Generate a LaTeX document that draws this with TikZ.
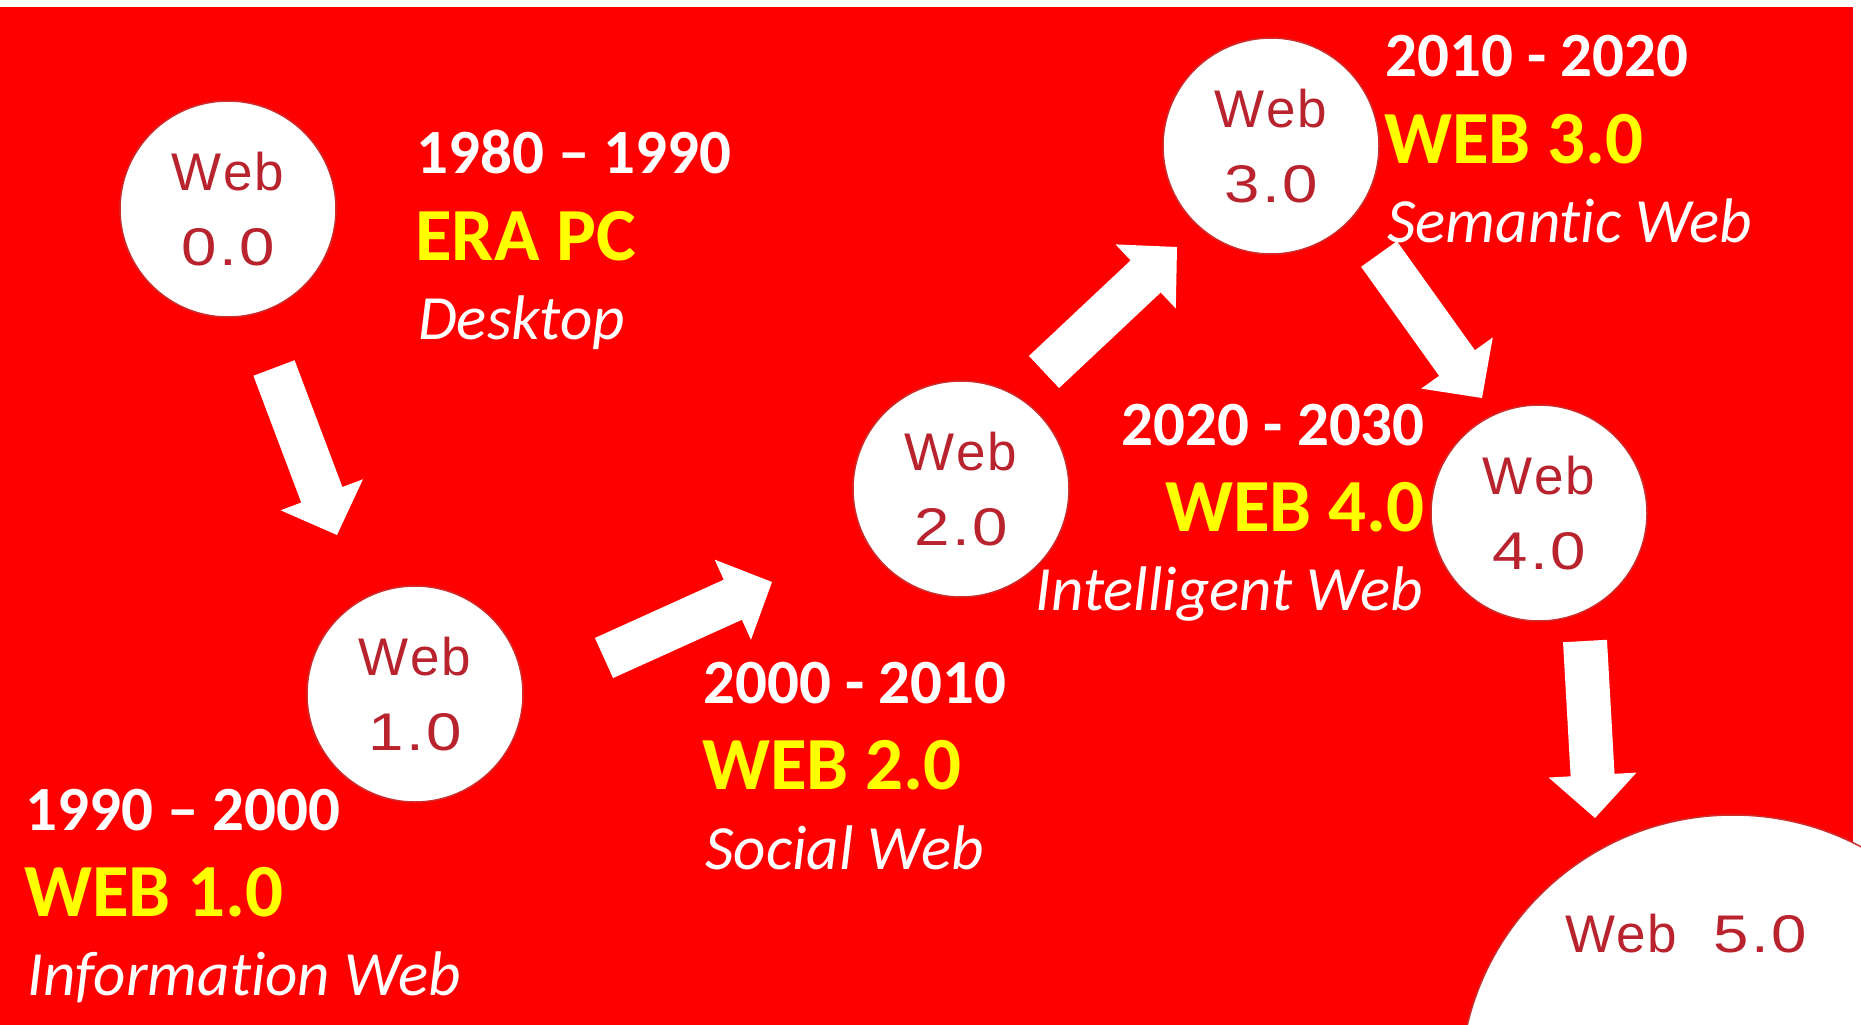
\documentclass[tikz,border=0pt]{standalone}
\usepackage{fontspec}
\usepackage{graphicx}
\usetikzlibrary{calc}
\newfontfamily\labfont[Ligatures=NoCommon]{Carlito}
\newfontfamily\webfont[LetterSpace=4]{Liberation Sans}
\newfontfamily\digfont[LetterSpace=4]{Liberation Sans}
\newcommand\digs[1]{\scalebox{1.2}[1]{\digfont #1}}
\definecolor{bgred}{RGB}{255,0,0}
\definecolor{webyel}{RGB}{255,255,0}
\definecolor{webtxt}{RGB}{185,35,45}
\definecolor{ringc}{RGB}{205,45,45}
\newcommand\webarrow[2]{%
  \coordinate (hb) at ($(#2)!43pt!(#1)$);
  \fill[arrowfill] ($(#1)!22pt!90:(#2)$) -- ($(hb)!22pt!90:(#2)$) -- ($(hb)!44pt!90:(#2)$)
    -- (#2) -- ($(hb)!44pt!-90:(#2)$) -- ($(hb)!22pt!-90:(#2)$) -- ($(#1)!22pt!-90:(#2)$) -- cycle;}
\begin{document}
\begin{tikzpicture}[x=1pt,y=-1pt,
  webcircle/.style={circle, fill=white, draw=ringc, line width=1.5pt, minimum size=216pt,
    inner sep=0pt, align=center, text=webtxt, font=\fontsize{53}{75}\selectfont},
  datetxt/.style={inner sep=0pt, text=white, font=\labfont\bfseries\fontsize{63}{63}\selectfont},
  webname/.style={inner sep=0pt, text=webyel, font=\labfont\bfseries\fontsize{75}{75}\selectfont},
  desctxt/.style={inner sep=0pt, text=white, font=\labfont\itshape\fontsize{63}{63}\selectfont},
  arrowfill/.style={fill=white}]
\useasboundingbox (0,0) rectangle (1861,1025);
\clip (0,0) rectangle (1861,1025);
\fill[white] (0,0) rectangle (1861,1025);
\fill[bgred] (0,7) rectangle (1853,1025);

% big circle Web 5.0
\node[webcircle, minimum size=546pt] (w5) at (1733,1088) {};
\node[inner sep=0pt, anchor=base west, text=webtxt, font=\fontsize{53}{75}\selectfont] (w5t) at (1565,952)
  {{\webfont Web}\hspace{36pt}\digs{5.0}};

% arrow end points
\coordinate (a1s) at (274,368); \coordinate (a1e) at (337,535);
\coordinate (a2s) at (604,658); \coordinate (a2e) at (772,582);
\coordinate (a3s) at (1044,372); \coordinate (a3e) at (1177,247);
\coordinate (a4s) at (1379,254); \coordinate (a4e) at (1482,398);
\coordinate (a5s) at (1585,641); \coordinate (a5e) at (1595,818);
\webarrow{a1s}{a1e}
\webarrow{a2s}{a2e}
\webarrow{a3s}{a3e}
\webarrow{a4s}{a4e}
\webarrow{a5s}{a5e}

% circles
\node[webcircle] (w0) at (228,209) {{\webfont Web}\\\digs{0.0}};
\node[webcircle] (w1) at (415,694) {{\webfont Web}\\\digs{1.0}};
\node[webcircle] (w2) at (961,489) {{\webfont Web}\\\digs{2.0}};
\node[webcircle] (w3) at (1271,146) {{\webfont Web}\\\digs{3.0}};
\node[webcircle] (w4) at (1539,513) {{\webfont Web}\\\digs{4.0}};

% labels group 0
\node[datetxt, anchor=base west] (d0) at (416,173) {1980 – 1990};
\node[webname, anchor=base west] (n0) at (415,260) {ERA PC};
\node[desctxt, anchor=base west] (t0) at (418,339) {Desktop};
% group 1
\node[datetxt, anchor=base west] (d1) at (25,830) {1990 – 2000};
\node[webname, anchor=base west] (n1) at (24,916) {WEB 1.0};
\node[desctxt, anchor=base west] (t1) at (27,995) {Information Web};
% group 2
\node[datetxt, anchor=base west] (d2) at (703,703) {2000 - 2010};
\node[webname, anchor=base west] (n2) at (702,789) {WEB 2.0};
\node[desctxt, anchor=base west] (t2) at (705,869) {Social Web};
% group 3
\node[datetxt, anchor=base west] (d3) at (1385,77) {2010 - 2020};
\node[webname, anchor=base west] (n3) at (1384,163) {WEB 3.0};
\node[desctxt, anchor=base west] (t3) at (1387,242) {Semantic Web};
% group 4
\node[datetxt, anchor=base east] (d4) at (1425,445) {2020 - 2030};
\node[webname, anchor=base east] (n4) at (1425,531) {WEB 4.0};
\node[desctxt, anchor=base east] (t4) at (1423,610) {Intelligent Web};
\end{tikzpicture}
\end{document}
